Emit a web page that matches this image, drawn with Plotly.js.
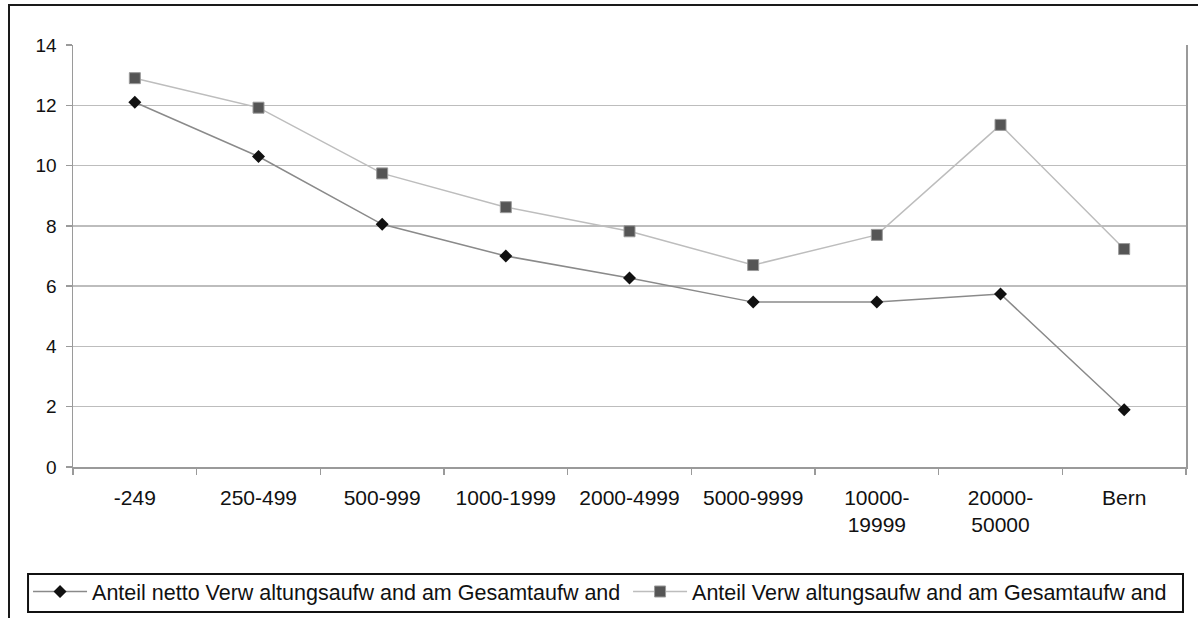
<!DOCTYPE html>
<html>
<head>
<meta charset="utf-8">
<script src="https://cdn.plot.ly/plotly-3.0.1.min.js"></script>
<style>
  html, body { margin: 0; padding: 0; background: #fff; overflow: hidden; }
  #frame { position: absolute; left: 8px; top: 4px; width: 1210px; height: 630px; border: 2px solid #1a1a1a; box-sizing: border-box; pointer-events: none; z-index: 5; }
  #chart { position: absolute; left: 0; top: 0; width: 1198px; height: 618px; }
</style>
</head>
<body>
<div id="chart"></div>
<div id="frame"></div>
<script>
const categories = ["-249", "250-499", "500-999", "1000-1999", "2000-4999", "5000-9999", "10000-<br>19999", "20000-<br>50000", "Bern"];
const seriesNetto = [12.1, 10.3, 8.05, 7.0, 6.27, 5.47, 5.47, 5.74, 1.9];
const seriesGesamt = [12.9, 11.92, 9.74, 8.62, 7.82, 6.7, 7.7, 11.35, 7.23];
const seriesNames = ["Anteil netto Verw altungsaufw and am Gesamtaufw and", "Anteil Verw altungsaufw and am Gesamtaufw and"];
const yTicks = [0, 2, 4, 6, 8, 10, 12, 14];

const FONT = "'Liberation Sans', Arial, sans-serif";

const traces = [
  {
    x: categories, y: seriesNetto, name: seriesNames[0], type: "scatter", mode: "lines+markers",
    legend: "legend",
    line: { color: "#8a8a8a", width: 1.5 },
    marker: { symbol: "diamond", size: 10, color: "#111111", line: { width: 0 } }
  },
  {
    x: categories, y: seriesGesamt, name: seriesNames[1], type: "scatter", mode: "lines+markers",
    legend: "legend2",
    line: { color: "#bdbdbd", width: 1.5 },
    marker: { symbol: "square", size: 11, color: "#555555", line: { width: 1, color: "#9a9a9a" } }
  }
];

const legendCommon = {
  orientation: "h",
  xanchor: "left",
  yanchor: "top",
  borderwidth: 0,
  bgcolor: "rgba(0,0,0,0)",
  font: { family: FONT, size: 21.5, color: "#111111" },
  itemwidth: 54
};

const layout = {
  width: 1198, height: 618,
  margin: { l: 73, r: 12, t: 45, b: 151, autoexpand: false },
  paper_bgcolor: "#ffffff", plot_bgcolor: "#ffffff",
  font: { family: FONT, color: "#111111", size: 19 },
  showlegend: true,
  xaxis: {
    type: "category", range: [-0.5, 8.5],
    showgrid: false, zeroline: false,
    showline: true, linecolor: "#9a9a9a", linewidth: 1.5,
    ticks: "outside", tickson: "boundaries", ticklen: 6, tickcolor: "#9a9a9a", tickwidth: 1.5,
    tickfont: { family: FONT, size: 21, color: "#111111" },
    ticklabelstandoff: 11,
    automargin: false,
    fixedrange: true
  },
  yaxis: {
    range: [0, 14], tickvals: yTicks, ticktext: yTicks.map(String),
    showgrid: true, gridcolor: "#bdbdbd", gridwidth: 1.5,
    zeroline: false,
    showline: true, linecolor: "#9a9a9a", linewidth: 1.5, mirror: true,
    ticks: "outside", ticklen: 6, tickcolor: "#9a9a9a", tickwidth: 1.5,
    tickfont: { family: FONT, size: 19, color: "#111111" },
    ticklabelstandoff: 5,
    automargin: false,
    fixedrange: true
  },
  legend: Object.assign({}, legendCommon, { x: -0.0404, y: -0.2465 }),
  legend2: Object.assign({}, legendCommon, { x: 0.4987, y: -0.2465 }),
  shapes: [
    {
      type: "rect", xref: "paper", yref: "paper",
      x0: -0.0404, x1: 0.9973, y0: -0.3436, y1: -0.2536,
      line: { color: "#111111", width: 2 },
      fillcolor: "rgba(0,0,0,0)",
      layer: "above"
    }
  ]
};

Plotly.newPlot("chart", traces, layout, { displayModeBar: false, staticPlot: true });
</script>
</body>
</html>
